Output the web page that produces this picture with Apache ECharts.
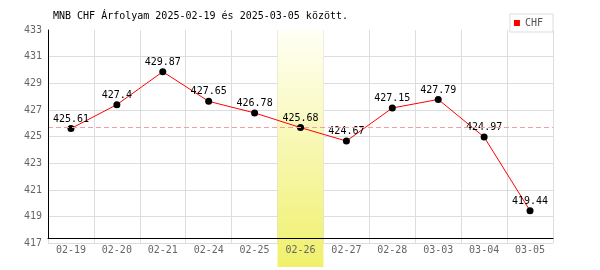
<!DOCTYPE html>
<html><head><meta charset="utf-8">
<script src="https://cdn.jsdelivr.net/npm/echarts@6/dist/echarts.min.js"></script>
<style>html,body{margin:0;padding:0;background:#fff}#c{width:600px;height:270px}</style>
</head><body><div id="c"></div>
<script>
const categories = ['02-19','02-20','02-21','02-24','02-25','02-26','02-27','02-28','03-03','03-04','03-05'];
const chfValues = [425.61, 427.4, 429.87, 427.65, 426.78, 425.68, 424.67, 427.15, 427.79, 424.97, 419.44];
const yMin = 417, yMax = 433, yStep = 2;
const highlightDate = '02-26';
const referenceValue = 425.68;
const seriesName = 'CHF';
const titleText = 'MNB CHF Árfolyam 2025-02-19 és 2025-03-05 között.';

const FONT = 'DejaVu Sans Mono';
const bandValues = categories.map(c => c === highlightDate ? 1 : null);

const chart = echarts.init(document.getElementById('c'), null, {renderer: 'canvas'});
chart.setOption({
  animation: false,
  title: {text: titleText, left: 53, top: 11, padding: 0,
    textStyle: {fontFamily: FONT, fontSize: 10, fontWeight: 'normal', color: '#000'}},
  legend: {
    data: [{name: seriesName, itemStyle: {color: '#ff0000'}}],
    right: 47, top: 14, icon: 'rect', itemWidth: 6, itemHeight: 6,
    borderColor: '#dddddd', borderWidth: 1, padding: [4, 10, 4, 4],
    textStyle: {fontFamily: FONT, fontSize: 10, color: '#555'}
  },
  grid: [
    {left: 48, right: 47, top: 30, bottom: 26.7},
    {left: 48, right: 47, top: 30, bottom: 31.7},
    {left: 48, right: 47, top: 30, bottom: 3}
  ],
  xAxis: [
    {type: 'category', gridIndex: 0, data: categories, boundaryGap: true,
      axisLine: {show: false}, axisTick: {show: false}, axisLabel: {show: false},
      splitLine: {show: true, interval: 0, lineStyle: {color: '#dddddd', width: 1}}},
    {type: 'category', gridIndex: 1, data: categories, z: 6,
      axisLine: {show: true, lineStyle: {color: '#000', width: 1}},
      axisTick: {show: false},
      axisLabel: {interval: 0, margin: 7, color: '#666', fontFamily: FONT, fontSize: 10},
      splitLine: {show: false}},
    {type: 'category', gridIndex: 2, data: categories, show: false}
  ],
  yAxis: [
    {type: 'value', gridIndex: 0, min: yMin, max: yMax, interval: yStep,
      axisLine: {show: false}, axisTick: {show: false},
      axisLabel: {margin: 6, color: '#666', fontFamily: FONT, fontSize: 10},
      splitLine: {show: true, showMaxLine: false, lineStyle: {color: '#dddddd', width: 1}}},
    {type: 'value', gridIndex: 1, min: 0, max: 1, z: 6,
      axisLine: {show: true, lineStyle: {color: '#000', width: 1}},
      axisTick: {show: false}, axisLabel: {show: false}, splitLine: {show: false}},
    {type: 'value', gridIndex: 2, min: 0, max: 1, show: false}
  ],
  series: [
    {type: 'line', xAxisIndex: 0, yAxisIndex: 0, data: [], z: 1, silent: true,
      markLine: {symbol: 'none', silent: true, label: {show: false},
        lineStyle: {color: '#f0a0a0', type: [5, 3], width: 1},
        data: [{yAxis: referenceValue}]}},
    {type: 'bar', xAxisIndex: 2, yAxisIndex: 2, data: bandValues, z: 2,
      barWidth: '100%', silent: true,
      itemStyle: {color: {type: 'linear', x: 0, y: 0, x2: 0, y2: 1,
        colorStops: [{offset: 0, color: '#fffff6'}, {offset: 1, color: '#f0f06c'}]}}},
    {name: seriesName, type: 'line', xAxisIndex: 0, yAxisIndex: 0, data: chfValues, z: 4,
      symbol: 'circle', symbolSize: 7,
      lineStyle: {color: '#ff0000', width: 1},
      itemStyle: {color: '#000'},
      label: {show: true, position: 'top', distance: 1, color: '#000',
        fontFamily: FONT, fontSize: 10}}
  ]
});
</script></body></html>
